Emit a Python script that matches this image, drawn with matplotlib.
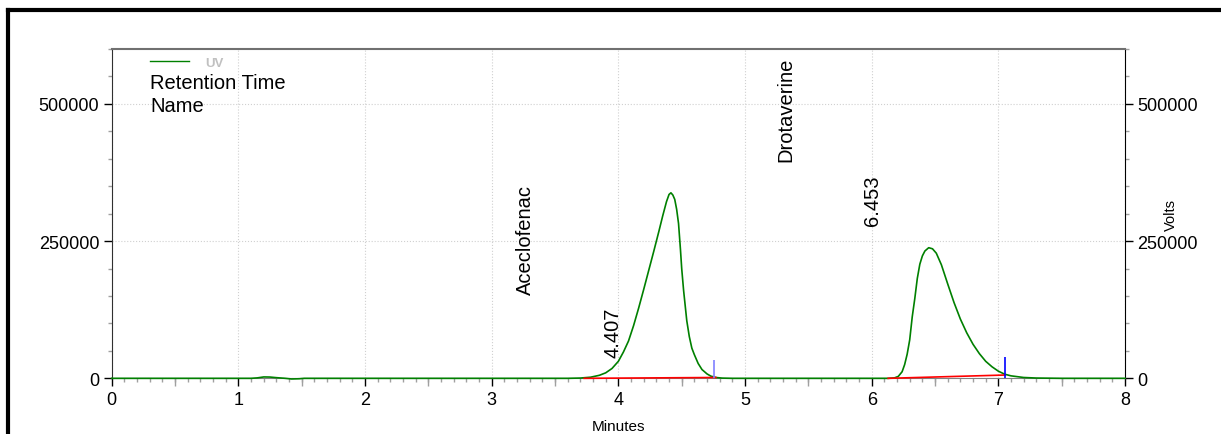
import matplotlib
matplotlib.use('Agg')
import matplotlib.pyplot as plt
from matplotlib.lines import Line2D
from matplotlib.ticker import MultipleLocator

plt.rcParams['font.family'] = ['Liberation Sans', 'DejaVu Sans']

# UV trace (minutes, signal)
time_min = [0.0, 0.5, 1.0, 1.10, 1.15, 1.20, 1.25, 1.30, 1.37, 1.42, 1.48, 1.52, 2.0, 3.0, 3.60,
            3.70, 3.78, 3.85, 3.90, 3.95, 4.00, 4.04, 4.08, 4.12, 4.16, 4.20, 4.24, 4.28, 4.32,
            4.35, 4.38, 4.40, 4.415, 4.43, 4.445, 4.46, 4.475, 4.49, 4.50, 4.515, 4.525, 4.54,
            4.56, 4.58, 4.60, 4.63, 4.66, 4.70, 4.73, 4.77, 4.82, 4.90, 5.5, 6.00, 6.13,
            6.18, 6.21, 6.24, 6.26, 6.28, 6.30, 6.32, 6.34, 6.36, 6.38, 6.40, 6.42, 6.45, 6.48,
            6.51, 6.55, 6.60, 6.65, 6.70, 6.75, 6.80, 6.85, 6.90, 6.95, 7.00, 7.05, 7.10, 7.20,
            7.30, 7.50, 8.0]
signal = [0, 0, 0, 0, 800, 2500, 2300, 1200, 0, -1200, -800, 0, 0, 0, 0,
          500, 2000, 5500, 10000, 18000, 31000, 48000, 68000, 96000, 128000, 162000, 197000, 232000, 268000,
          296000, 322000, 335000, 338000, 334000, 326000, 308000, 282000, 235000, 200000, 160000, 138000, 105000,
          76000, 55000, 43000, 27000, 16000, 8000, 4000, 1500, 400, 0, 0, 0, 0,
          800, 3500, 12000, 25000, 44000, 70000, 112000, 145000, 182000, 208000, 223000, 232000, 238000, 236000,
          228000, 207000, 172000, 138000, 108000, 83000, 62000, 45000, 31000, 21000, 13000, 7500, 4500, 1500,
          500, 0, 0]

# integration baselines and peak end markers
base1_t = [3.73, 4.77]
base1_v = [0, 1500]
base2_t = [6.13, 7.053]
base2_v = [0, 6000]
marker_t = [4.754, 7.053]
marker_h = [33000, 38000]
marker_c = ['#8080ff', '#0000ff']

# peak annotations
names = ['Aceclofenac', 'Drotaverine']
name_x = [3.265, 5.326]
name_y = [154000, 396000]
rts = ['4.407', '6.453']
rt_x = [3.957, 6.005]
rt_y = [39000, 279000]

fig = plt.figure(figsize=(12.21, 4.35), dpi=100)
ax = fig.add_axes([0.0915, 0.128, 0.8299, 0.757])

ax.grid(True, which='major', linestyle=':', color='#d0d0d0', linewidth=0.8)
ax.plot(time_min, signal, color='green', lw=1.2, zorder=4, clip_on=False)
ax.plot(base1_t, base1_v, color='red', lw=1.2, zorder=5, clip_on=False)
ax.plot(base2_t, base2_v, color='red', lw=1.2, zorder=5, clip_on=False)
for t, h, c in zip(marker_t, marker_h, marker_c):
    ax.vlines(t, 0, h, color=c, lw=1.2, zorder=6)

for s, x, y in zip(names, name_x, name_y):
    ax.text(x, y, s, rotation=90, ha='center', va='bottom', fontsize=14.5)
for s, x, y in zip(rts, rt_x, rt_y):
    ax.text(x, y, s, rotation=90, ha='center', va='bottom', fontsize=14.5)

ax.set_xlim(0, 8)
ax.set_ylim(0, 600000)
ax.set_xticks(range(0, 9))
ax.set_yticks([0, 250000, 500000])
ax.set_yticklabels(['0', '250000', '500000'])
ax.xaxis.set_minor_locator(MultipleLocator(0.1))
ax.yaxis.set_minor_locator(MultipleLocator(50000))
ax.tick_params(axis='x', which='major', direction='out', length=6, width=1, color='black',
               labelsize=13, pad=3)
ax.tick_params(axis='x', which='minor', direction='out', length=3, width=1, color='#a0a0a0')
ax.tick_params(axis='y', which='major', direction='out', length=6, width=1, color='black',
               labelsize=13, pad=3, left=True, right=True, labelleft=True, labelright=True)
ax.tick_params(axis='y', which='minor', direction='out', length=3, width=1, color='#a0a0a0',
               left=True, right=True)

# longer half-minute ticks
sec = ax.secondary_xaxis('bottom')
sec.set_xticks([0.5, 1.5, 2.5, 3.5, 4.5, 5.5, 6.5, 7.5])
sec.tick_params(length=5.5, width=1, color='#a0a0a0', labelbottom=False)
sec.spines['bottom'].set_visible(False)

ax.spines['top'].set_color('#707070')
ax.spines['top'].set_linewidth(1.5)
ax.spines['left'].set_color('#303030')
ax.spines['right'].set_color('black')
ax.spines['bottom'].set_color('#808080')

ax.set_xlabel('Minutes', fontsize=11, labelpad=8)
ax.text(1.0454, 0.5, 'Volts', transform=ax.transAxes, rotation=90,
        ha='center', va='center', fontsize=10.5)

# legend-like header
ax.add_line(Line2D([0.0378, 0.0764], [0.9636, 0.9636], transform=ax.transAxes,
                   color='green', lw=1.0))
ax.text(0.092, 0.9494, 'UV', transform=ax.transAxes, fontsize=9.5, fontweight='bold',
        color='#c0c0c0', va='baseline')
ax.text(0.0378, 0.8806, 'Retention Time', transform=ax.transAxes, fontsize=14.5, va='baseline')
ax.text(0.0378, 0.8126, 'Name', transform=ax.transAxes, fontsize=14.5, va='baseline')

# outer frame (left and top)
fig.add_artist(Line2D([0.0066, 0.0066], [0.0, 0.9745], color='black', lw=3, solid_capstyle='projecting'))
fig.add_artist(Line2D([0.0066, 1.0], [0.9745, 0.9745], color='black', lw=3, solid_capstyle='projecting'))

fig.savefig('out.png', dpi=100)
